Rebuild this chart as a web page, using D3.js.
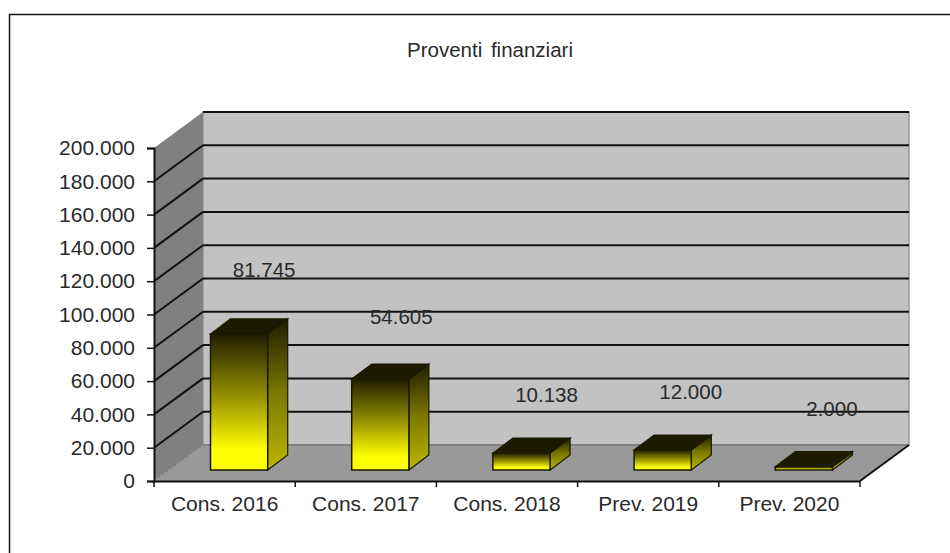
<!DOCTYPE html>
<html><head><meta charset="utf-8">
<script src="https://d3js.org/d3.v7.min.js"></script>
<style>html,body{margin:0;padding:0;background:#fff}svg{display:block}text{font-family:"Liberation Sans",Arial,sans-serif;fill:#2a2a2a}</style>
</head><body><svg id="c" width="950" height="553"></svg>
<script>
const categories=["Cons. 2016","Cons. 2017","Cons. 2018","Prev. 2019","Prev. 2020"];
const values=[81745,54605,10138,12000,2000];
const yTicks=d3.range(0,200001,20000);
const title="Proventi finanziari";

const svg=d3.select("#c");
const L=154,R=860,B=481,T=148,DX=49,DY=36;
const x=d3.scaleBand().domain(categories).range([L,R]);
const y=d3.scaleLinear().domain([0,200000]).range([B,T]);
const yLabel=d3.scaleLinear().domain([0,200000]).range([419.5,71]);
const fmt=d3.formatLocale({decimal:",",thousands:".",grouping:[3],currency:["",""]}).format(",d");

const defs=svg.append("defs");
function grad(id,stops){const g=defs.append("linearGradient").attr("id",id).attr("x1",0).attr("y1",0).attr("x2",0).attr("y2",1);
 stops.forEach(s=>g.append("stop").attr("offset",s[0]).attr("stop-color",s[1]));}
grad("front",[[0,"#1f1d00"],[.5,"#a09a00"],[.85,"#ffff00"],[1,"#ffff00"]]);
grad("side",[[0,"#1f1d00"],[.5,"#7d7a00"],[1,"#bdb800"]]);

// frame
svg.append("path").attr("d","M9.5,553V14.5H950").attr("fill","none").attr("stroke","#111").attr("stroke-width",1.5);

// title
svg.append("text").attr("x",490).attr("y",57).attr("text-anchor","middle").attr("font-size",20.5).attr("word-spacing",3).text(title);

const poly=(pts)=>"M"+pts.map(p=>p.join(",")).join("L")+"Z";
// walls
svg.append("path").attr("d",poly([[L+DX,T-DY],[R+DX,T-DY],[R+DX,B-DY],[L+DX,B-DY]])).attr("fill","#c2c2c2").attr("stroke","#999").attr("stroke-width",1.5);
svg.append("path").attr("d",poly([[L,T],[L+DX,T-DY],[L+DX,B-DY],[L,B]])).attr("fill","#808080");
svg.append("path").attr("d",poly([[L,B],[L+DX,B-DY],[R+DX,B-DY],[R,B]])).attr("fill","#999");

// gridlines
const g=svg.append("g").attr("fill","none");
yTicks.forEach(t=>{
  const yy=y(t);
  if(t>0){
    g.append("line").attr("x1",L+DX).attr("x2",R+DX).attr("y1",yy-DY).attr("y2",yy-DY).attr("stroke","#111").attr("stroke-width",2);
    if(t<200000) g.append("line").attr("x1",L).attr("x2",L+DX).attr("y1",yy).attr("y2",yy-DY).attr("stroke","#111").attr("stroke-width",2);
  }
});
g.append("line").attr("x1",L).attr("x2",L+DX).attr("y1",B).attr("y2",B-DY).attr("stroke","#777").attr("stroke-dasharray","3,2");
g.append("line").attr("x1",L+DX).attr("x2",R+DX).attr("y1",B-DY).attr("y2",B-DY).attr("stroke","#666").attr("stroke-width",1);
g.append("line").attr("x1",R).attr("x2",R+DX).attr("y1",B).attr("y2",B-DY).attr("stroke","#111").attr("stroke-width",2);

// bars
const bw=x.bandwidth()*0.405, off=56.5, lift=11, bx=20, by=15;
const rows=categories.map((c,i)=>({c,v:values[i],i}));
const bars=svg.append("g").selectAll("g").data(rows).join("g");
bars.each(function(d){
  const s=d3.select(this),x0=x(d.c)+off,x1=x0+bw,base=B-lift,top=y(d.v)-lift;
  s.append("path").attr("d",poly([[x1,top],[x1+bx,top-by],[x1+bx,base-by],[x1,base]])).attr("fill","url(#side)").attr("stroke","#1a1a00").attr("stroke-width",1.2);
  s.append("path").attr("d",poly([[x0,top],[x0+bx,top-by],[x1+bx,top-by],[x1,top]])).attr("fill","#1c1a00").attr("stroke","#1a1a00").attr("stroke-width",1.2);
  s.append("rect").attr("x",x0).attr("y",top).attr("width",bw).attr("height",base-top).attr("fill","url(#front)").attr("stroke","#1a1a00").attr("stroke-width",1.5);
});

// value labels
const nudge=[0,-4,0,3,3];
svg.append("g").selectAll("text").data(rows).join("text")
 .attr("x",d=>x(d.c)+off+bw/2+25+nudge[d.i])
 .attr("y",d=>yLabel(d.v))
 .attr("text-anchor","middle").attr("font-size",20.5).text(d=>fmt(d.v));

// axes
const ya=d3.axisLeft(y).tickValues(yTicks).tickFormat(fmt).tickSize(7).tickPadding(12);
const yg=svg.append("g").attr("transform",`translate(${L},0)`).call(ya);
const xa=d3.axisBottom(x).tickSize(0).tickPadding(15);
const xg=svg.append("g").attr("transform",`translate(0,${B})`).call(xa);
[yg,xg].forEach(a=>{a.selectAll("text").attr("font-size",21).attr("fill","#2a2a2a").style("font-family",'"Liberation Sans",Arial,sans-serif');
 a.selectAll("line").attr("stroke","#111").attr("stroke-width",1.5);
 a.select(".domain").attr("stroke","#111").attr("stroke-width",2);});
[...categories.map(c=>x(c)),R].forEach(e=>svg.append("line").attr("x1",e).attr("x2",e).attr("y1",B).attr("y2",B+6).attr("stroke","#111").attr("stroke-width",1.5));
</script></body></html>
